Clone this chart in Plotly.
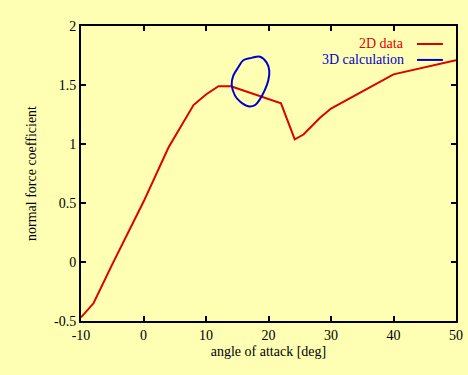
import plotly.graph_objects as go

# 2D data (red)
aoa_2d = [-10, -8, -5, 0, 4, 8, 10, 12, 14, 22, 24.2, 25.6, 28.2, 30, 40, 50]
cn_2d = [-0.47, -0.35, -0.02, 0.51, 0.97, 1.33, 1.42, 1.49, 1.49, 1.345, 1.04, 1.08, 1.22, 1.30, 1.59, 1.71]

# 3D calculation (blue loop)
aoa_3d = [15.97, 17.31, 18.64, 19.71, 20.13, 19.97, 19.44, 18.64, 17.84, 16.77, 15.44, 14.64, 14.11, 14.37, 15.17, 15.97]
cn_3d = [1.71, 1.73, 1.74, 1.69, 1.62, 1.54, 1.46, 1.38, 1.33, 1.32, 1.36, 1.41, 1.50, 1.58, 1.65, 1.71]

x_ticks = [-10, 0, 10, 20, 30, 40, 50]
y_ticks = [-0.5, 0, 0.5, 1, 1.5, 2]
y_tick_text = ["-0.5", "0", "0.5", "1", "1.5", "2"]

RED = "#dd0000"
BLUE = "#0000cc"
BG = "#ffffb4"
FONT = "Liberation Serif"

fig = go.Figure()
fig.add_trace(go.Scatter(x=aoa_2d, y=cn_2d, mode="lines", line=dict(color=RED, width=2), name="2D data"))
fig.add_trace(go.Scatter(x=aoa_3d, y=cn_3d, mode="lines", line=dict(color=BLUE, width=2, shape="spline"), name="3D calculation"))

axis_common = dict(showgrid=False, zeroline=False, showline=True, linecolor="black", linewidth=2,
                   mirror="ticks", ticks="inside", ticklen=5, tickwidth=2, tickcolor="black",
                   automargin=False, tickfont=dict(family=FONT, size=14, color="black"))

fig.update_xaxes(range=[-10, 50], tickvals=x_ticks, ticktext=[str(v) for v in x_ticks],
                 title=dict(text="angle of attack [deg]", font=dict(family=FONT, size=14, color="black"), standoff=4),
                 **axis_common)
fig.update_yaxes(range=[-0.5, 2], tickvals=y_ticks, ticktext=y_tick_text,
                 title=dict(text="normal force coefficient", font=dict(family=FONT, size=14, color="black"), standoff=14),
                 **axis_common)

legend_items = [("2D data", RED, 0.939), ("3D calculation", BLUE, 0.885)]
annotations = []
shapes = []
for label, col, yp in legend_items:
    annotations.append(dict(text=label, xref="paper", yref="paper", x=0.866, y=yp, xanchor="right",
                            yanchor="middle", showarrow=False, font=dict(family=FONT, size=14, color=col)))
    shapes.append(dict(type="line", xref="paper", yref="paper", x0=0.896, x1=0.965, y0=yp, y1=yp,
                       line=dict(color=col, width=2)))

fig.update_layout(width=468, height=375, paper_bgcolor=BG, plot_bgcolor=BG, showlegend=False,
                  margin=dict(l=81, r=12, t=26, b=54), annotations=annotations, shapes=shapes,
                  font=dict(family=FONT, size=14, color="black"))

fig.write_html("out.html", config={"displayModeBar": False},
               post_script="document.body.style.margin='0';document.body.style.background='%s';" % BG)
